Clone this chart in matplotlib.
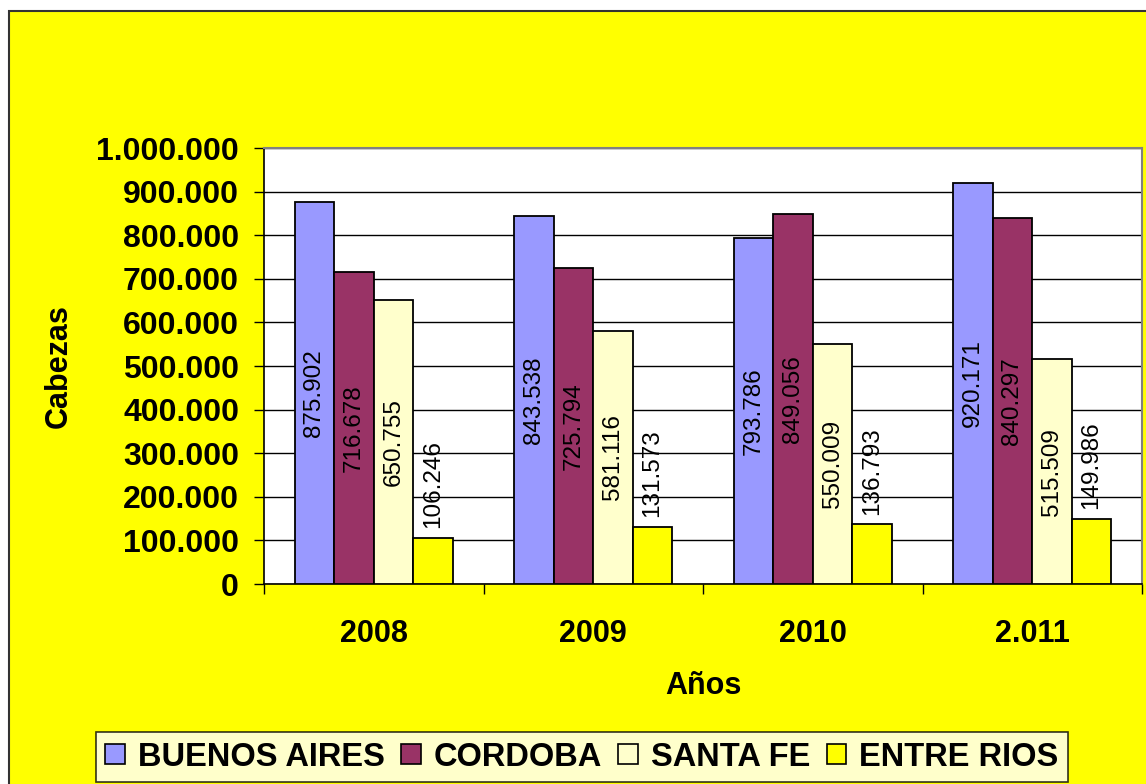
import matplotlib
matplotlib.use("Agg")
import matplotlib.pyplot as plt
from matplotlib.patches import Rectangle, Patch
from matplotlib.ticker import FuncFormatter, MultipleLocator, FixedLocator
import numpy as np

plt.rcParams['font.family'] = ['Liberation Sans', 'DejaVu Sans']

years = ["2008", "2009", "2010", "2.011"]
series_names = ["BUENOS AIRES", "CORDOBA", "SANTA FE", "ENTRE RIOS"]
buenos_aires = [875902, 843538, 793786, 920171]
cordoba = [716678, 725794, 849056, 840297]
santa_fe = [650755, 581116, 550009, 515509]
entre_rios = [106246, 131573, 136793, 149986]
colors = ["#9999FF", "#993366", "#FFFFCC", "#FFFF00"]

series = [buenos_aires, cordoba, santa_fe, entre_rios]

fig = plt.figure(figsize=(11.46, 7.84), dpi=100)
fig.patch.set_facecolor("white")
W, H = 1146, 784
fig.add_artist(Rectangle((9 / W, -0.05), 1.2, (H - 11) / H + 0.05,
                         transform=fig.transFigure, facecolor="#FFFF00",
                         edgecolor="#333333", lw=1.5, zorder=0))

ax = fig.add_axes([264 / W, (H - 584) / H, (1142 - 264) / W, (584 - 148) / H])
ax.set_facecolor("white")

x = np.arange(len(years))
bw = 0.18
offsets = [-1.5 * bw, -0.5 * bw, 0.5 * bw, 1.5 * bw]

def fmt(v):
    return f"{v:,.0f}".replace(",", ".")

for vals, off, col in zip(series, offsets, colors):
    bars = ax.bar(x + off, vals, bw, color=col, edgecolor="black", lw=1.3, zorder=3)
    for b, v in zip(bars, vals):
        cx = b.get_x() + b.get_width() / 2
        if v > 300000:
            ax.text(cx, v / 2, fmt(v), rotation=90, ha="center", va="center",
                    fontsize=17.5, color="black", zorder=5)
        else:
            ax.annotate(fmt(v), (cx, v), xytext=(0, 7), textcoords="offset points",
                        rotation=90, ha="center", va="bottom", fontsize=17.5,
                        color="black", zorder=5)

ax.set_ylim(0, 1000000)
ax.set_xlim(-0.5, len(years) - 0.5)
ax.yaxis.set_major_locator(MultipleLocator(100000))
ax.yaxis.set_major_formatter(FuncFormatter(lambda v, p: fmt(v)))
ax.grid(axis="y", color="black", lw=1, zorder=1)
ax.set_axisbelow(True)

ax.set_xticks(x)
ax.set_xticklabels(years)
ax.xaxis.set_minor_locator(FixedLocator(np.arange(-0.5, len(years), 1.0)))
ax.tick_params(axis="x", which="major", length=0, pad=25, labelsize=22)
ax.tick_params(axis="x", which="minor", length=7, direction="out", width=1)
ax.tick_params(axis="y", which="major", length=7, direction="out", width=1,
               pad=11, labelsize=23)
for lab in ax.get_xticklabels() + ax.get_yticklabels():
    lab.set_fontweight("bold")

for s in ["left", "bottom"]:
    ax.spines[s].set_color("black")
    ax.spines[s].set_linewidth(1.2)
for s in ["top", "right"]:
    ax.spines[s].set_color("#808080")
    ax.spines[s].set_linewidth(1.5)

ax.set_xlabel("Años", fontsize=22, fontweight="bold")
ax.xaxis.set_label_coords(0.5, (584 - 671) / 436)
ax.set_ylabel("Cabezas", fontsize=22, fontweight="bold")
ax.yaxis.set_label_coords((74 - 264) / 878, 0.5)

handles = [Patch(facecolor=c, edgecolor="black", lw=1.2) for c in colors]
leg = fig.legend(handles, series_names, loc="center",
                 bbox_to_anchor=((98 + 1066) / 2 / W, (H - 757) / H),
                 ncol=4, frameon=True, fancybox=False, handlelength=0.6,
                 handleheight=0.6, handletextpad=0.4, columnspacing=0.5,
                 borderpad=0.3, prop={"size": 23.5, "weight": "bold"})
leg.get_frame().set_edgecolor("black")
leg.get_frame().set_linewidth(1.2)
leg.get_frame().set_facecolor("white")

fig.savefig("out.png", dpi=100, facecolor=fig.get_facecolor())
